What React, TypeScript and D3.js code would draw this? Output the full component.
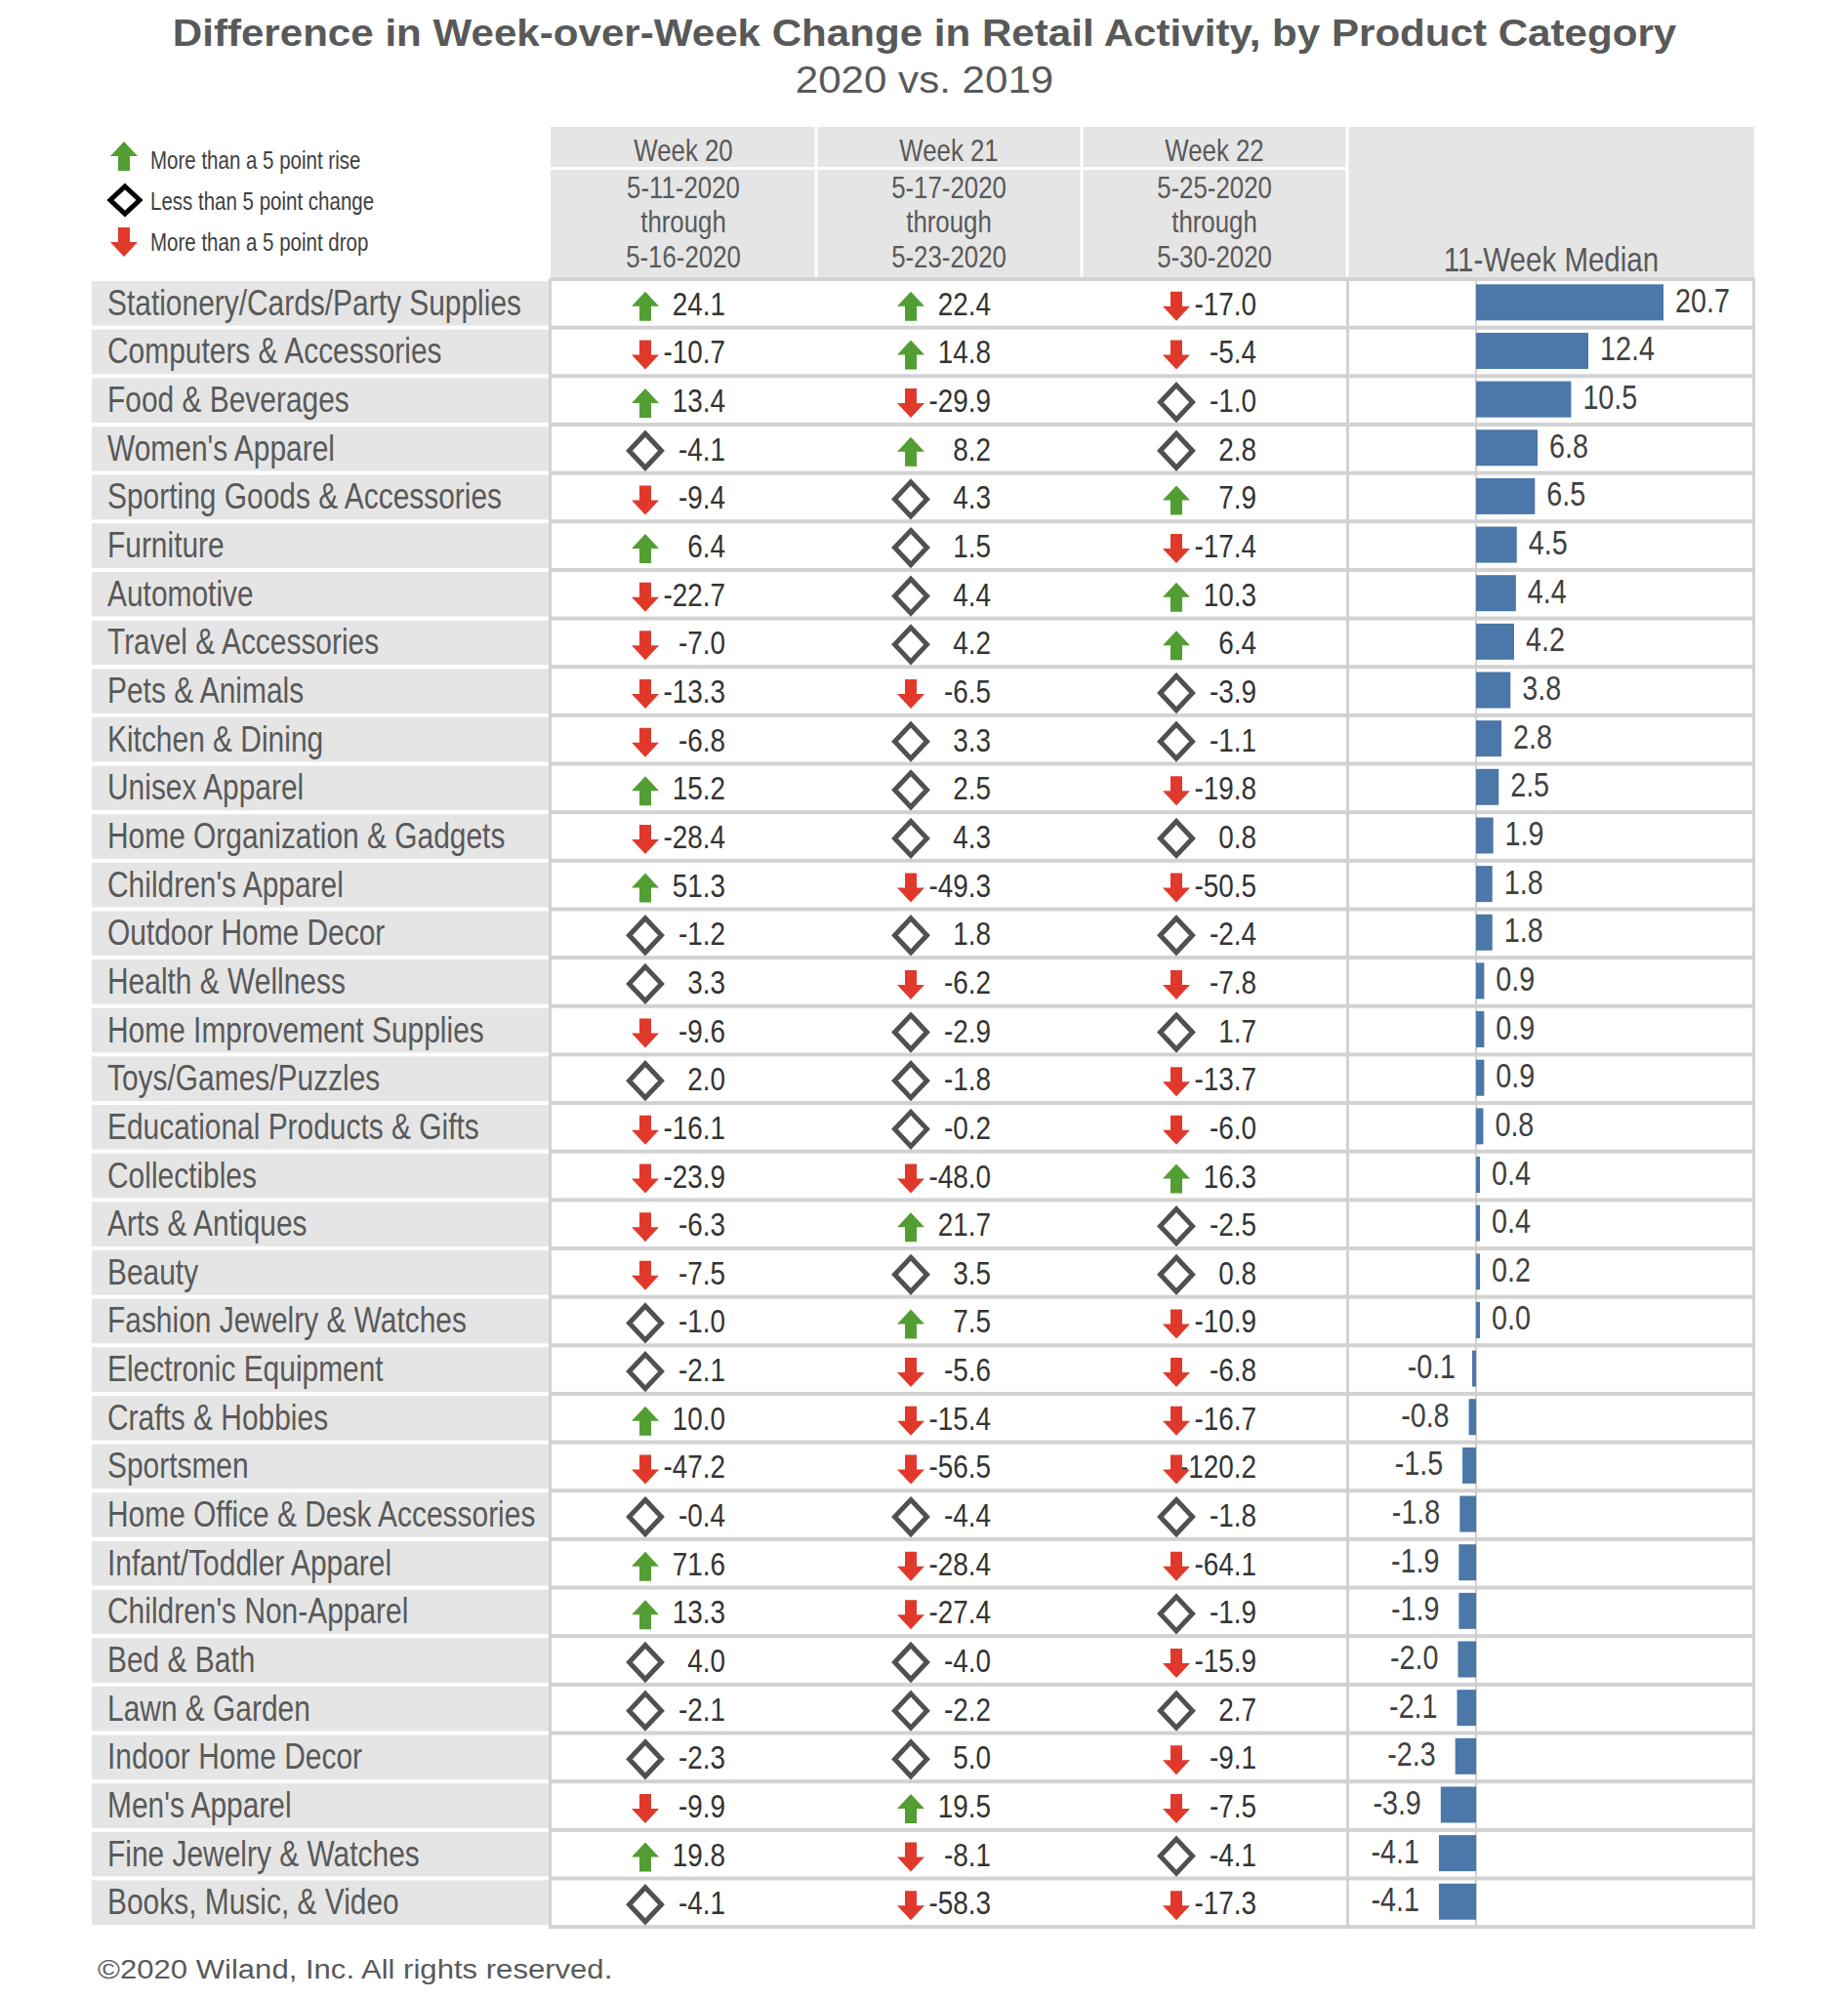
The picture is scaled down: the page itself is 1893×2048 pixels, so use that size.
import React from "react";
import * as d3 from "d3";

const categories = [
  "Stationery/Cards/Party Supplies", "Computers & Accessories", "Food & Beverages", "Women's Apparel",
  "Sporting Goods & Accessories", "Furniture", "Automotive", "Travel & Accessories", "Pets & Animals",
  "Kitchen & Dining", "Unisex Apparel", "Home Organization & Gadgets", "Children's Apparel",
  "Outdoor Home Decor", "Health & Wellness", "Home Improvement Supplies", "Toys/Games/Puzzles",
  "Educational Products & Gifts", "Collectibles", "Arts & Antiques", "Beauty", "Fashion Jewelry & Watches",
  "Electronic Equipment", "Crafts & Hobbies", "Sportsmen", "Home Office & Desk Accessories",
  "Infant/Toddler Apparel", "Children's Non-Apparel", "Bed & Bath", "Lawn & Garden", "Indoor Home Decor",
  "Men's Apparel", "Fine Jewelry & Watches", "Books, Music, & Video",
];

const week20 = [24.1, -10.7, 13.4, -4.1, -9.4, 6.4, -22.7, -7.0, -13.3, -6.8, 15.2, -28.4, 51.3, -1.2, 3.3, -9.6, 2.0,
  -16.1, -23.9, -6.3, -7.5, -1.0, -2.1, 10.0, -47.2, -0.4, 71.6, 13.3, 4.0, -2.1, -2.3, -9.9, 19.8, -4.1];
const week21 = [22.4, 14.8, -29.9, 8.2, 4.3, 1.5, 4.4, 4.2, -6.5, 3.3, 2.5, 4.3, -49.3, 1.8, -6.2, -2.9, -1.8,
  -0.2, -48.0, 21.7, 3.5, 7.5, -5.6, -15.4, -56.5, -4.4, -28.4, -27.4, -4.0, -2.2, 5.0, 19.5, -8.1, -58.3];
const week22 = [-17.0, -5.4, -1.0, 2.8, 7.9, -17.4, 10.3, 6.4, -3.9, -1.1, -19.8, 0.8, -50.5, -2.4, -7.8, 1.7, -13.7,
  -6.0, 16.3, -2.5, 0.8, -10.9, -6.8, -16.7, -120.2, -1.8, -64.1, -1.9, -15.9, 2.7, -9.1, -7.5, -4.1, -17.3];
const median = [20.7, 12.4, 10.5, 6.8, 6.5, 4.5, 4.4, 4.2, 3.8, 2.8, 2.5, 1.9, 1.8, 1.8, 0.9, 0.9, 0.9, 0.8, 0.4, 0.4,
  0.2, 0.0, -0.1, -0.8, -1.5, -1.8, -1.9, -1.9, -2.0, -2.1, -2.3, -3.9, -4.1, -4.1];

const weekLabels = ["Week 20", "Week 21", "Week 22"];
const dateStart = ["5-11-2020", "5-17-2020", "5-25-2020"];
const dateEnd = ["5-16-2020", "5-23-2020", "5-30-2020"];
const legendLabels = ["More than a 5 point rise", "Less than 5 point change", "More than a 5 point drop"];
const medianTitle = "11-Week Median";
const titleLine1 = "Difference in Week-over-Week Change in Retail Activity, by Product Category";
const titleLine2 = "2020 vs. 2019";
const footer = "©2020 Wiland, Inc. All rights reserved.";

const FONT = "'Liberation Sans', Arial, sans-serif";
const NARROW = 0.82;
const GREEN = "#529e32";
const RED = "#e0392b";
const BAR = "#4b77a9";
const GRID = "#d2d2d2";
const BAND = "#e5e5e5";

function T(props: any) {
  const { x, y, size, anchor = "start", fill = "#595959", weight = "normal", sx = NARROW, children } = props;
  return (
    <text transform={`translate(${x},${y}) scale(${sx},1)`} fontSize={size} textAnchor={anchor}
      fill={fill} fontWeight={weight} fontFamily={FONT}>{children}</text>
  );
}

function arrowPath(cx: number, cy: number, up: boolean) {
  const h = 15, hw = 14, sw = 6, hh = 15;
  const s = up ? 1 : -1;
  const tip = cy - s * h;
  const base = tip + s * hh;
  const end = cy + s * h;
  return `M${cx},${tip} L${cx + hw},${base} L${cx + sw},${base} L${cx + sw},${end} L${cx - sw},${end} L${cx - sw},${base} L${cx - hw},${base} Z`;
}

function diamondPath(cx: number, cy: number, rx: number, ry: number) {
  return `M${cx},${cy - ry} L${cx + rx},${cy} L${cx},${cy + ry} L${cx - rx},${cy} Z`;
}

function Icon({ cx, cy, v }: { cx: number; cy: number; v: number }) {
  if (v > 5) return <path d={arrowPath(cx, cy + 3, true)} fill={GREEN} />;
  if (v < -5) return <path d={arrowPath(cx, cy + 3, false)} fill={RED} />;
  return <path d={diamondPath(cx, cy + 2, 16.5, 17.5)} fill="none" stroke="#505050" strokeWidth={5} />;
}

export default function App() {
  const W = 1893, H = 2048;
  const tableTop = 285, rowH = 49.65;
  const y = d3.scaleBand<string>().domain(categories).range([tableTop, tableTop + rowH * categories.length]).paddingInner(0).paddingOuter(0);
  const x = d3.scaleBand<string>().domain(weekLabels).range([564, 1380]).padding(0);
  const xb = d3.scaleLinear().domain([0, 20.7]).range([1512, 1704]);
  const weeks = [week20, week21, week22];
  const catLeft = 94, tableRight = 1797, headTop = 130;
  const bottom = tableTop + rowH * categories.length;
  const bw = x.bandwidth();
  const boundaries = d3.range(categories.length + 1).map((i) => tableTop + i * rowH);

  return (
    <svg width={W} height={H} style={{ position: "absolute", left: 0, top: 0, background: "#fff" }}>
      <rect x={0} y={0} width={W} height={H} fill="#fff" />
      {/* Title */}
      <T x={947} y={47} size={39} anchor="middle" weight="bold" sx={1.08}>{titleLine1}</T>
      <T x={947} y={95} size={39} anchor="middle" sx={1.08}>{titleLine2}</T>

      {/* Legend */}
      <path d={arrowPath(127, 160, true)} fill={GREEN} />
      <path d={diamondPath(128, 205, 15, 14)} fill="none" stroke="#000" strokeWidth={5} />
      <path d={arrowPath(127, 248, false)} fill={RED} />
      {legendLabels.map((l, i) => (
        <T key={l} x={154} y={173 + i * 42} size={25} fill="#404040">{l}</T>
      ))}

      {/* Header */}
      <rect x={564} y={headTop} width={tableRight - 564} height={tableTop - headTop} fill={BAND} />
      {weekLabels.map((w, i) => {
        const cx = (x(w) as number) + bw / 2;
        return (
          <g key={w}>
            <T x={cx} y={165} size={31.5} anchor="middle">{w}</T>
            <T x={cx} y={203} size={31.5} anchor="middle">{dateStart[i]}</T>
            <T x={cx} y={238} size={31.5} anchor="middle">through</T>
            <T x={cx} y={274} size={31.5} anchor="middle">{dateEnd[i]}</T>
          </g>
        );
      })}
      <rect x={564} y={171} width={1380 - 564} height={3} fill="#fff" />
      {weekLabels.slice(1).map((w) => (
        <rect key={w} x={(x(w) as number) - 1.5} y={headTop} width={3} height={tableTop - headTop} fill="#fff" />
      ))}
      <rect x={1378.5} y={headTop} width={3} height={tableTop - headTop} fill="#fff" />
      <T x={1589} y={278} size={36} anchor="middle">{medianTitle}</T>

      {/* Category bands */}
      {categories.map((c) => {
        const top = y(c) as number;
        return (
          <g key={c}>
            <rect x={catLeft} y={top + 3} width={564 - catLeft} height={rowH - 4} fill={BAND} />
            <T x={110} y={top + 25.8 + 12} size={36.5}>{c}</T>
          </g>
        );
      })}

      {/* Grid */}
      {boundaries.map((b, i) => (
        <rect key={i} x={564} y={b - 1} width={tableRight - 564} height={4} fill={GRID} />
      ))}
      <rect x={562} y={tableTop} width={3} height={bottom - tableTop + 3} fill={GRID} />
      <rect x={1379} y={tableTop} width={3} height={bottom - tableTop + 3} fill={GRID} />
      <rect x={tableRight - 2} y={tableTop} width={3} height={bottom - tableTop + 3} fill={GRID} />
      <line x1={xb(0)} x2={xb(0)} y1={tableTop} y2={bottom} stroke="#cfcfcf" strokeWidth={2} />

      {/* Week cells */}
      {categories.map((c, r) => {
        const cy = (y(c) as number) + 25.8;
        return (
          <g key={c}>
            {weeks.map((arr, k) => {
              const left = x(weekLabels[k]) as number;
              const v = arr[r];
              return (
                <g key={k}>
                  <T x={left + 179} y={cy + 12} size={34} anchor="end" fill="#333">{v.toFixed(1)}</T>
                  <Icon cx={left + 97} cy={cy} v={v} />
                </g>
              );
            })}
          </g>
        );
      })}

      {/* Median bars */}
      {categories.map((c, r) => {
        const cy = (y(c) as number) + 25.8;
        const v = median[r];
        const x0 = Math.min(xb(0), xb(v));
        const wv = Math.max(Math.abs(xb(v) - xb(0)), 4);
        const pos = v >= 0;
        return (
          <g key={c}>
            <rect x={pos ? xb(0) : xb(0) - wv} y={cy - 19.5} width={wv} height={37} fill={BAR} />
            {pos ? (
              <T x={xb(0) + wv + 12} y={cy + 9} size={35} fill="#404040">{v.toFixed(1)}</T>
            ) : (
              <T x={x0 - 20} y={cy + 9} size={35} anchor="end" fill="#404040">{v.toFixed(1)}</T>
            )}
          </g>
        );
      })}

      {/* Footer */}
      <T x={100} y={2027} size={28} sx={1.11} fill="#595959">{footer}</T>
    </svg>
  );
}
